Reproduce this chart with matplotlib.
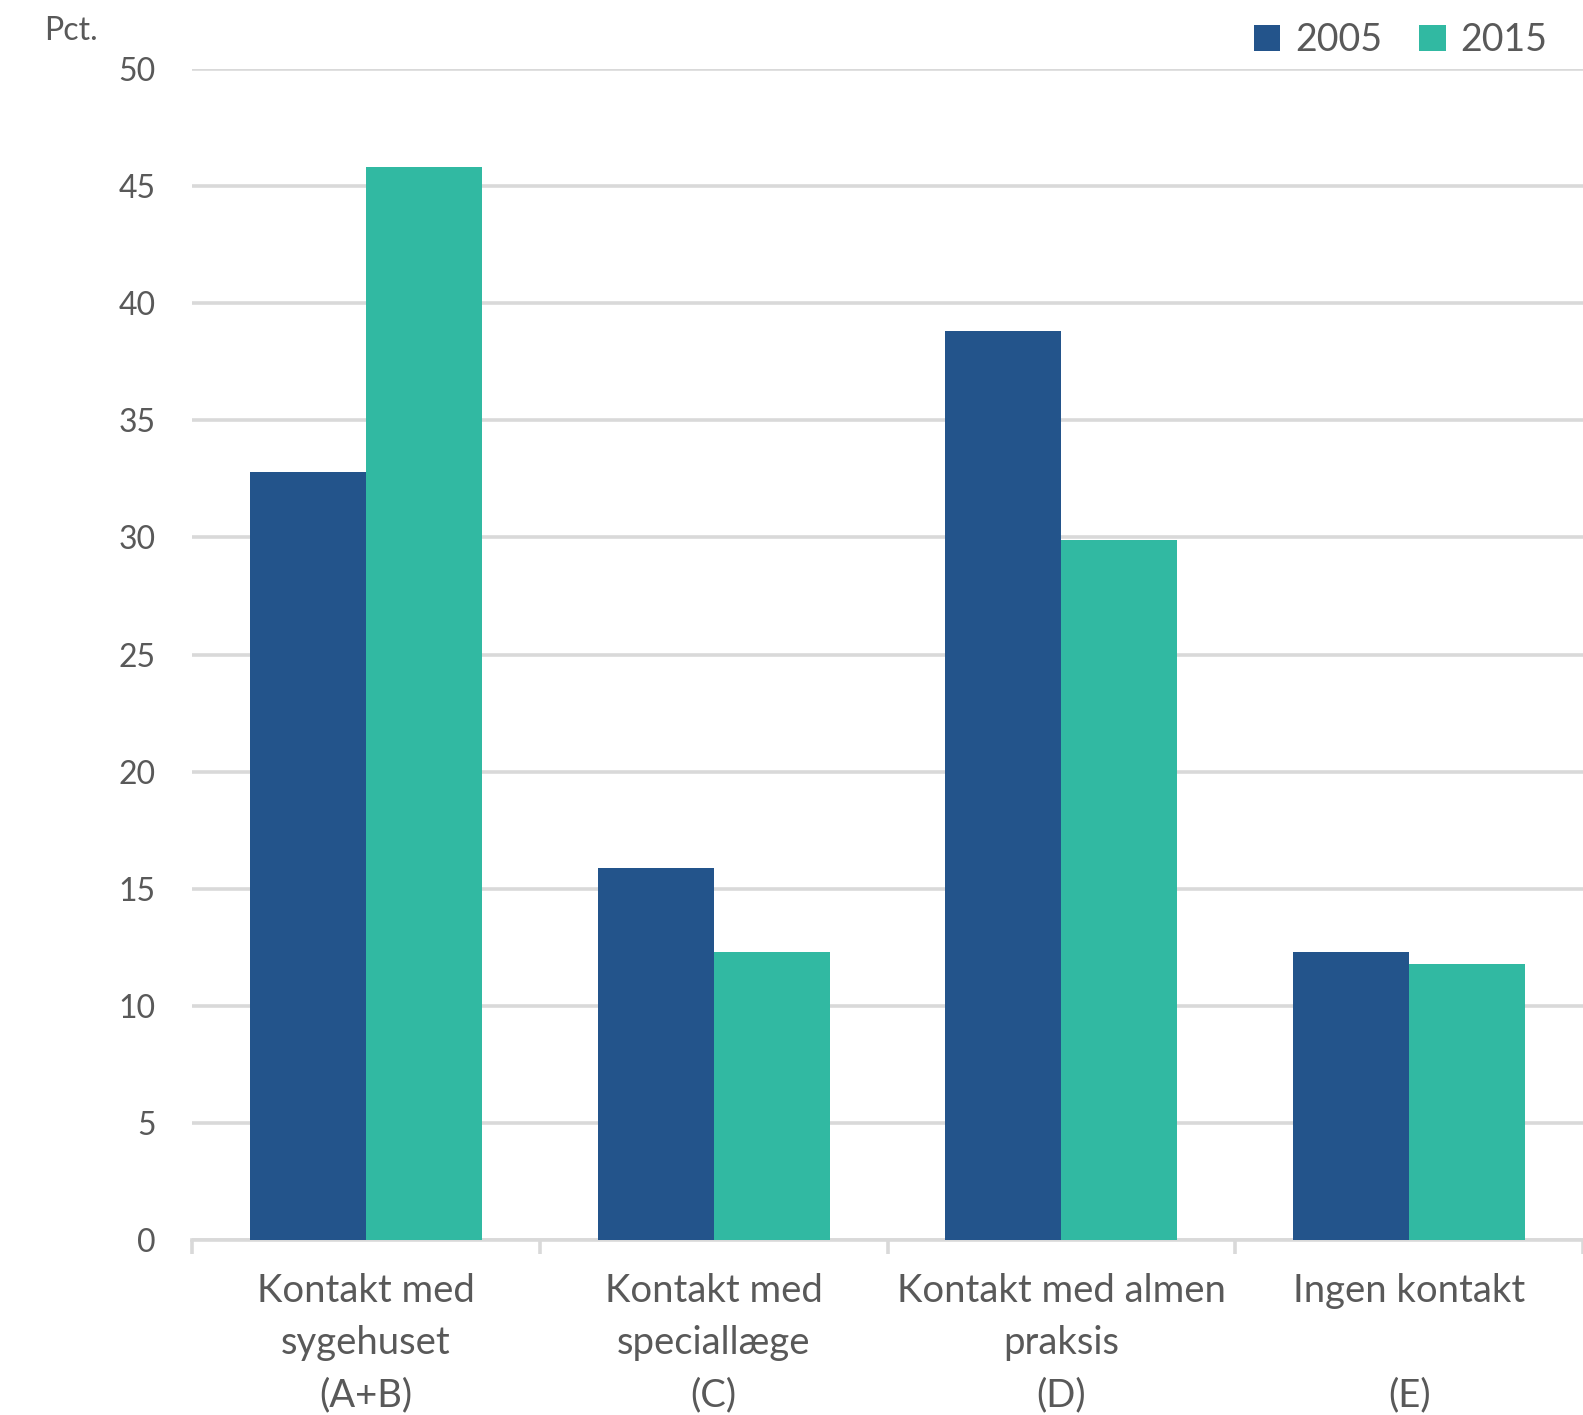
import matplotlib.pyplot as plt
import numpy as np

# Data
kategorier = ["Kontakt med\nsygehuset\n(A+B)", "Kontakt med\nspeciallæge\n(C)",
              "Kontakt med almen\npraksis\n(D)", "Ingen kontakt\n\n(E)"]
aar = ["2005", "2015"]
vaerdier_2005 = [32.8, 15.9, 38.8, 12.3]
vaerdier_2015 = [45.8, 12.3, 29.9, 11.8]
y_ticks = [0, 5, 10, 15, 20, 25, 30, 35, 40, 45, 50]

farver = ["#23548B", "#31B9A2"]
tekstfarve = "#595959"
gitterfarve = "#D9D9D9"

plt.rcParams['font.family'] = ['Lato', 'DejaVu Sans']

fig = plt.figure(figsize=[15.83, 14.15], dpi=100)
ax = fig.add_axes([0.1213, 0.1237, 0.8787, 0.8275])

x = np.arange(len(kategorier))
bredde = 1 / 3
ax.bar(x - bredde, vaerdier_2005, width=bredde, align="edge",
       color=farver[0], label=aar[0], zorder=3)
ax.bar(x, vaerdier_2015, width=bredde, align="edge",
       color=farver[1], label=aar[1], zorder=3)

ax.set_xlim(-0.5, len(kategorier) - 0.5)
ax.set_ylim(0, 50)

# Gitterlinjer
ax.set_yticks(y_ticks)
ax.yaxis.grid(True, color=gitterfarve, linewidth=2.6, zorder=0)
ax.set_axisbelow(True)
for side in ["top", "right", "left"]:
    ax.spines[side].set_visible(False)
ax.spines["bottom"].set_color(gitterfarve)
ax.spines["bottom"].set_linewidth(2.6)

ax.tick_params(axis="y", length=0, pad=26, labelsize=23, labelcolor=tekstfarve)
ax.set_xticks(x)
ax.set_xticklabels(kategorier, fontsize=27.5, color=tekstfarve, linespacing=1.55)
ax.tick_params(axis="x", which="major", length=0, pad=24)
ax.set_xticks(np.arange(-0.5, len(kategorier), 1), minor=True)
ax.tick_params(axis="x", which="minor", length=10, width=2.6, color=gitterfarve)

fig.text(0.028, 0.978, "Pct.", fontsize=23, color=tekstfarve, ha="left", va="center")

leg = fig.legend(loc="upper right", bbox_to_anchor=(0.999, 1.008), ncol=2,
                 frameon=False, fontsize=27, handlelength=0.7, handleheight=0.7,
                 handletextpad=0.4, columnspacing=1.0)
for t in leg.get_texts():
    t.set_color(tekstfarve)

fig.savefig("out.png", dpi=100)
